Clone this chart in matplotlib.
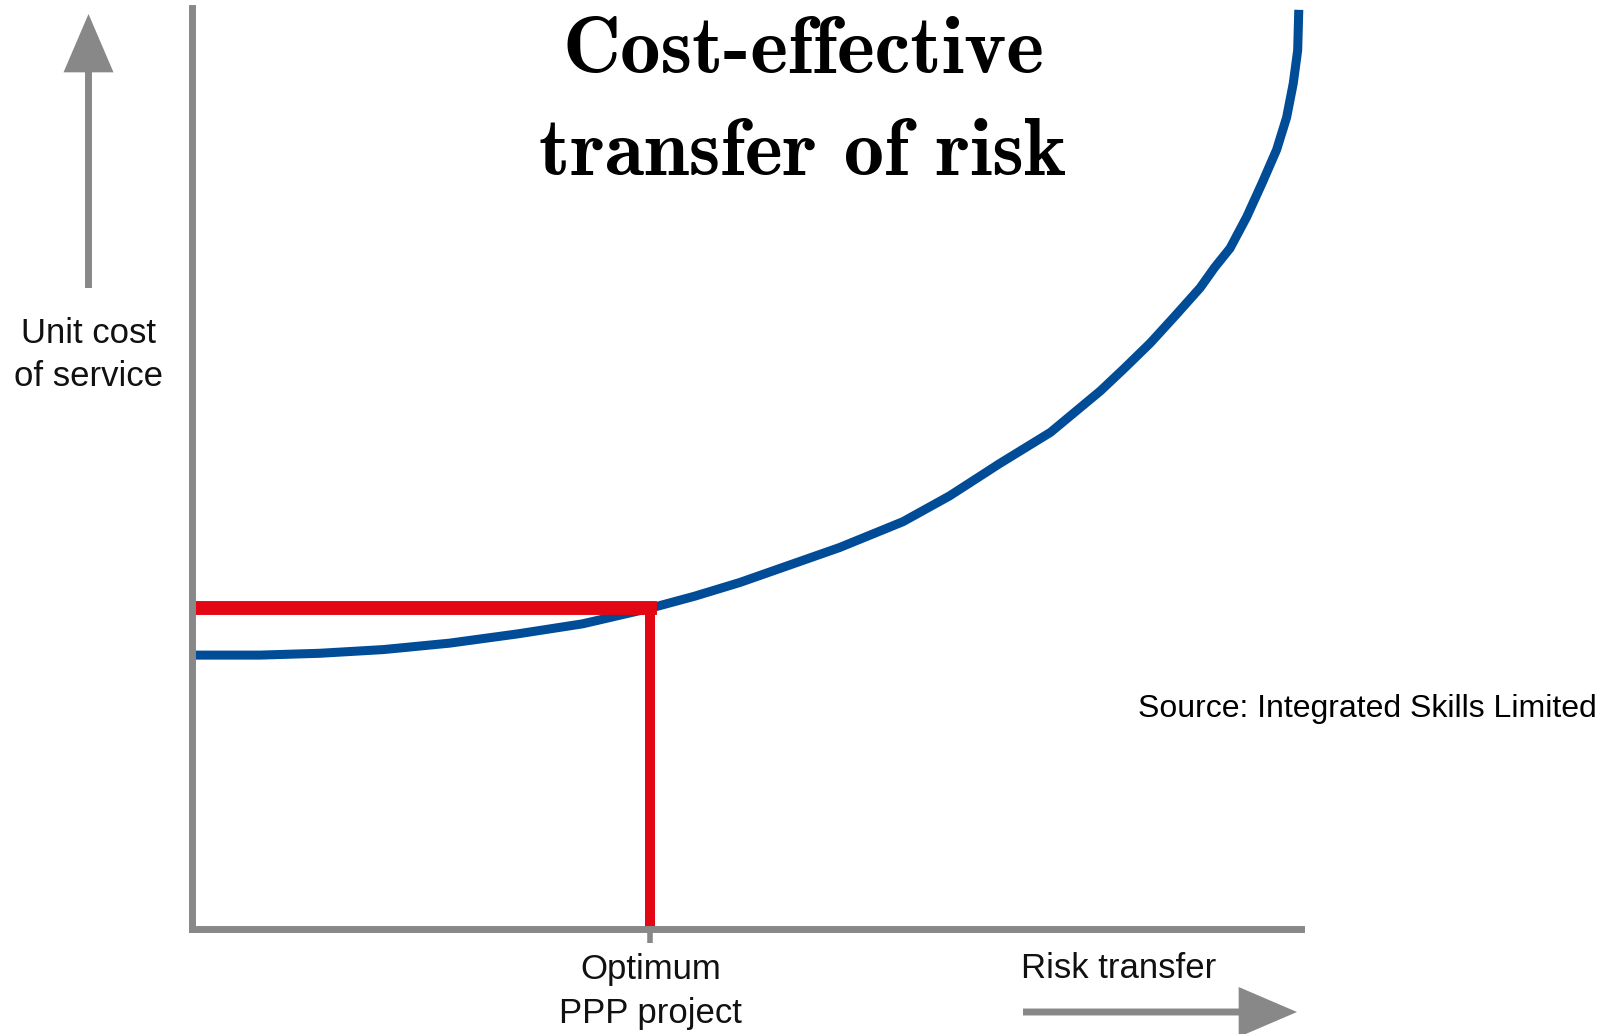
import matplotlib
matplotlib.use("Agg")
import matplotlib.pyplot as plt

# cost curve, read in axis percent (x: share of risk transferred, y: unit cost)
risk_transfer = [0.0, 6.1, 11.5, 17.2, 23.2, 29.3, 35.2, 41.3, 45.3, 49.4,
                 53.9, 58.4, 64.1, 68.3, 72.8, 77.4, 81.9, 84.1, 86.4, 88.6,
                 90.9, 92.2, 93.6, 95.1, 96.5, 97.8, 98.7, 99.3, 99.7, 99.8]
unit_cost = [29.7, 29.7, 29.9, 30.3, 31.0, 32.0, 33.1, 34.8, 36.1, 37.6,
             39.5, 41.4, 44.2, 47.0, 50.5, 53.9, 58.4, 60.9, 63.6, 66.5,
             69.6, 71.8, 73.9, 77.3, 81.0, 84.6, 88.1, 91.8, 95.4, 99.8]

optimum_x = 41.3
optimum_y = 34.8
optimum_label = "Optimum\nPPP project"

GREY = "#888888"
BLUE = "#004C97"
RED = "#E30613"

W, H = 1615, 1034
fig = plt.figure(figsize=(W / 100, H / 100), dpi=100)
ax = fig.add_axes([192.5 / W, (H - 928.5) / H, (1301 - 192.5) / W, (928.5 - 8) / H])
ax.set_xlim(0, 100)
ax.set_ylim(0, 100)

for side in ["top", "right"]:
    ax.spines[side].set_visible(False)
for side in ["left", "bottom"]:
    ax.spines[side].set_linewidth(5)
    ax.spines[side].set_color(GREY)

ax.set_yticks([])
ax.set_xticks([optimum_x], [optimum_label])
ax.tick_params(axis="x", length=10, width=4, color=GREY, pad=8,
               labelsize=25, labelcolor="#111111")
for lbl in ax.get_xticklabels():
    lbl.set_family("Liberation Sans")
    lbl.set_linespacing(1.4)

ax.plot(risk_transfer, unit_cost, color=BLUE, lw=6.5, solid_capstyle="butt",
        solid_joinstyle="round", clip_on=False, zorder=1.8)
# optimum guides
ax.plot([0, optimum_x], [optimum_y, optimum_y], color=RED, lw=10,
        solid_capstyle="projecting", zorder=2)
ax.plot([optimum_x, optimum_x], [0, optimum_y], color=RED, lw=7.2,
        solid_capstyle="butt", zorder=2)

# axis direction arrows
arrow = dict(arrowstyle="simple,head_length=4.2,tail_width=0.5,head_width=3.6",
             color=GREY, lw=0, shrinkA=0, shrinkB=0, mutation_scale=10)
ax.annotate("", xy=(88.5, H - 14), xytext=(88.5, H - 288),
            xycoords="figure pixels", textcoords="figure pixels", arrowprops=arrow)
ax.annotate("", xy=(1297, H - 1012), xytext=(1023, H - 1012),
            xycoords="figure pixels", textcoords="figure pixels", arrowprops=arrow)

fig.text(88.5 / W, 1 - 355 / H, "Unit cost\nof service", ha="center", va="center",
         fontsize=25, family="Liberation Sans", linespacing=1.4, color="#111111")
fig.text(1119 / W, 1 - 968 / H, "Risk transfer", ha="center", va="center",
         fontsize=25, family="Liberation Sans", color="#111111")
fig.text(1138 / W, 1 - 709 / H, "Source: Integrated Skills Limited", ha="left",
         va="center", fontsize=23, family="Liberation Sans", color="black")

fig.text(803 / W, 1 - 73 / H, "Cost-effective", ha="center", va="baseline",
         fontsize=58, family="cmb10", color="black")
fig.text(803 / W, 1 - 175 / H, "transfer of risk", ha="center", va="baseline",
         fontsize=58, family="cmb10", color="black")

fig.savefig("out.png", dpi=100, facecolor="white")
